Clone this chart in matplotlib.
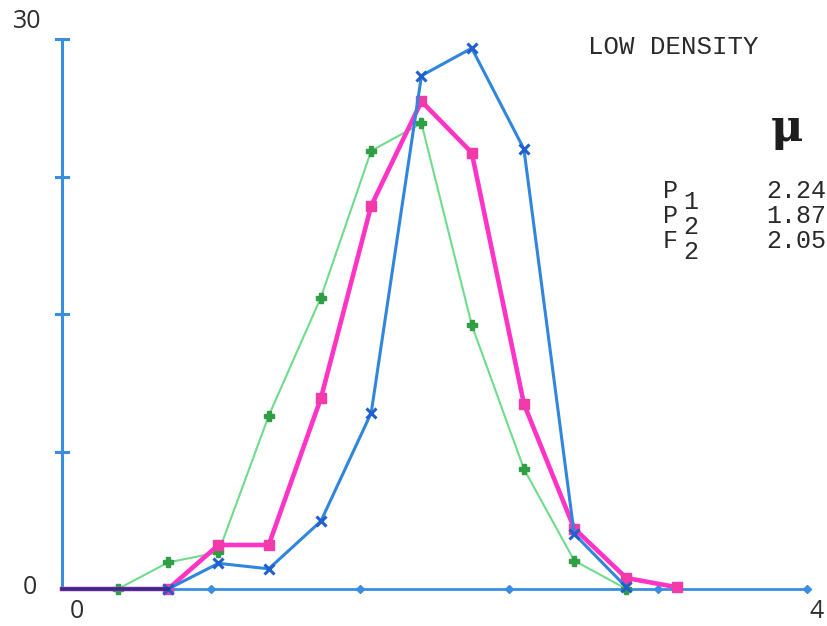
import matplotlib
matplotlib.use("Agg")
import matplotlib.pyplot as plt

# ---- data ----
# P1 (blue, x markers)
p1_x = [0.00, 0.57, 0.84, 1.11, 1.39, 1.66, 1.93, 2.20, 2.48, 2.75, 3.03]
p1_y = [0.0, 0.0, 1.4, 1.1, 3.7, 9.6, 28.0, 29.5, 24.0, 3.0, 0.1]

# P2 (magenta, squares)
p2_x = [0.00, 0.57, 0.84, 1.11, 1.39, 1.66, 1.93, 2.20, 2.48, 2.75, 3.03, 3.30]
p2_y = [0.0, 0.0, 2.4, 2.4, 10.4, 20.9, 26.6, 23.8, 10.1, 3.3, 0.6, 0.1]

# F2 (green, plus markers)
f2_x = [0.30, 0.57, 0.84, 1.11, 1.39, 1.66, 1.93, 2.20, 2.48, 2.75, 3.03]
f2_y = [0.0, 1.45, 2.0, 9.45, 15.9, 23.9, 25.4, 14.4, 6.55, 1.55, 0.0]

y_ticks = [7.5, 15, 22.5, 30]
x_ticks = [0.8, 1.6, 2.4, 3.2, 4.0]

legend_names = ["P", "P", "F"]
legend_subs = ["1", "2", "2"]
legend_vals = ["2.24", "1.87", "2.05"]

W, H = 827, 626
fig = plt.figure(figsize=(W / 100, H / 100), dpi=100)
ax = fig.add_axes([0, 0, 1, 1])
ax.set_axis_off()

# pixel mapping: x=0 -> 62px, x=4 -> 807px ; y=0 -> 589px, y=30 -> 39px
px_per_x = (807 - 62) / 4.0
px_per_y = (589 - 39) / 30.0
ax.set_xlim(-62 / px_per_x, (W - 62) / px_per_x)
ax.set_ylim(-(H - 589) / px_per_y, 589 / px_per_y)

axis_col = "#3a8ee2"
ax.plot([0, 4], [0, 0], color=axis_col, lw=2.0, zorder=1, solid_capstyle="butt")
ax.plot([0, 0], [0, 30], color=axis_col, lw=2.2, zorder=1, solid_capstyle="butt")
for t in y_ticks:
    ax.plot([-0.03, 0.03], [t, t], color=axis_col, lw=2.2, zorder=1)
ax.plot(x_ticks, [0] * len(x_ticks), linestyle="none", marker="D", ms=4,
        color=axis_col, zorder=1)

# series
ax.plot(f2_x, f2_y, color="#6fdc8c", lw=1.5, zorder=3,
        marker="P", ms=7, mfc="#2f9e45", mec="#2f9e45")
ax.plot(p2_x, p2_y, color="#ff33c6", lw=3.3, zorder=4,
        marker="s", ms=7, mfc="#f23aa8", mec="#f23aa8",
        markevery=list(range(1, len(p2_x))))
ax.plot(p1_x, p1_y, color="#2f86dc", lw=2.2, zorder=5,
        marker="x", ms=7, mew=2.2, mec="#1f5fd0",
        markevery=list(range(1, len(p1_x))))
ax.plot([0, 0.57], [0, 0], color="#3a2a8a", lw=2.6, zorder=6)


def ftext(px, py, s, **kw):
    fig.text(px / W, 1 - py / H, s, **kw)


num_font = dict(family="Open Sans", fontsize=18, color="#2e2e2e")
ftext(27, 22, "30", ha="center", va="center", **num_font)
ftext(30, 588, "0", ha="center", va="center", **num_font)
ftext(77, 612, "0", ha="center", va="center", **num_font)
ftext(817, 612, "4", ha="center", va="center", **num_font)

mono = dict(family="Liberation Mono", color="#2a2a2a")
ftext(588, 47, "LOW DENSITY", ha="left", va="center", fontsize=18.5, **mono)
ftext(787, 128, "\u03bc", ha="center", va="center", fontsize=32,
      family="DejaVu Serif", fontweight="bold", color="#1e1e1e")

row_y = [191, 216, 241]
for name, sub, val, yy in zip(legend_names, legend_subs, legend_vals, row_y):
    ftext(663, yy, name, ha="left", va="center", fontsize=18, **mono)
    ftext(683, yy + 11, sub, ha="left", va="center", fontsize=18, **mono)
    ftext(826, yy, val, ha="right", va="center", fontsize=18, **mono)

fig.savefig("out.png", dpi=100, facecolor="white")
